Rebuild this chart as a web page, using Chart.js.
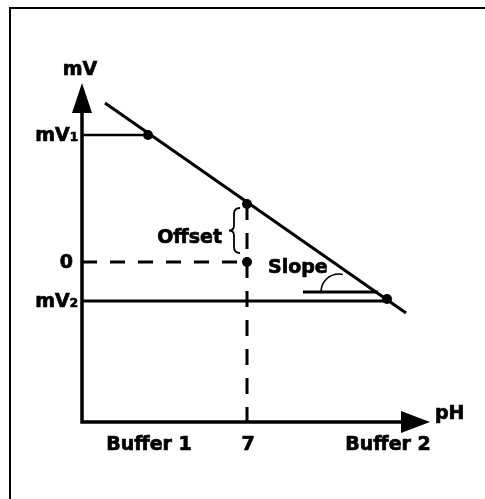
<!DOCTYPE html>
<html><head><meta charset="utf-8">
<style>html,body{margin:0;padding:0;background:#fff}#wrap{position:relative;width:485px;height:499px}</style>
<script src="https://cdn.jsdelivr.net/npm/chart.js@4/dist/chart.umd.min.js"></script>
</head><body><div id="wrap"><canvas id="c"></canvas></div>
<script>
// ---- data (abstract plot units) ----
const xTickLabels = ['Buffer 1', '7', 'Buffer 2'];
const xTickValues = [66, 165, 305];
const yTickMain = ['mV', '0', 'mV'];
const yTickSub = ['1', '', '2'];
const yTickValues = [127, 0, -39];
const calibrationLine = [{x: 23, y: 159}, {x: 324, y: -51}];
const bufferPoints = [{x: 66, y: 127}, {x: 305, y: -37}];
const offsetPoints = [{x: 165, y: 58}, {x: 165, y: 0}];
const mV1Guide = [{x: 0, y: 127}, {x: 66, y: 127}];
const mV2Guide = [{x: 0, y: -39}, {x: 305, y: -39}];
const zeroGuide = [{x: 0, y: 0}, {x: 165, y: 0}];
const phSevenGuide = [{x: 165, y: 58}, {x: 165, y: -160}];
const slopeReference = [{x: 221, y: -30}, {x: 296, y: -30}];
const xRange = [0, 348];
const yRange = [-160, 179];

const FONT = 'bold 19px "DejaVu Sans"';
const SUBFONT = 'bold 12px "DejaVu Sans"';

function lineDs(data, width, dash) {
  return {data, showLine: true, borderColor: '#000', backgroundColor: '#000',
    borderWidth: width, borderDash: dash || [], pointRadius: 0, pointHoverRadius: 0, tension: 0};
}

function heavyText(ctx, t, x, y) {
  ctx.fillText(t, x, y);
  ctx.lineWidth = 0.7;
  ctx.strokeText(t, x, y);
}

const overlay = {
  id: 'overlay',
  afterDatasetsDraw(chart) {
    const ctx = chart.ctx;
    const xs = chart.scales.x, ys = chart.scales.y;
    const X = v => xs.getPixelForValue(v), Y = v => ys.getPixelForValue(v);
    const x0 = X(xRange[0]), y0 = Y(yRange[0]);
    const xEnd = X(xRange[1]), yEnd = Y(yRange[1]);
    ctx.save();
    ctx.fillStyle = '#000'; ctx.strokeStyle = '#000';
    // frame
    ctx.lineWidth = 2;
    ctx.beginPath(); ctx.moveTo(10, 499); ctx.lineTo(10, 8); ctx.lineTo(485, 8); ctx.stroke();
    // axes
    ctx.lineWidth = 3.5;
    ctx.beginPath(); ctx.moveTo(x0, yEnd + 20); ctx.lineTo(x0, y0); ctx.lineTo(xEnd - 20, y0); ctx.stroke();
    // arrowheads
    ctx.beginPath(); ctx.moveTo(x0, yEnd); ctx.lineTo(x0 - 10, yEnd + 30); ctx.lineTo(x0 + 10, yEnd + 30); ctx.closePath(); ctx.fill();
    ctx.beginPath(); ctx.moveTo(xEnd, y0); ctx.lineTo(xEnd - 29, y0 - 11); ctx.lineTo(xEnd - 29, y0 + 11); ctx.closePath(); ctx.fill();
    // axis titles
    ctx.font = FONT; ctx.textBaseline = 'alphabetic';
    ctx.textAlign = 'center'; heavyText(ctx, 'mV', x0 - 2, yEnd - 8);
    ctx.textAlign = 'left'; heavyText(ctx, 'pH', xEnd + 5, y0 - 3);
    // x tick labels
    ctx.textAlign = 'center';
    xTickLabels.forEach((t, i) => heavyText(ctx, t, X(xTickValues[i]) + 1, y0 + 28));
    // y tick labels
    yTickValues.forEach((v, i) => {
      const right = x0 - 4;
      ctx.font = SUBFONT;
      const sw = yTickSub[i] ? ctx.measureText(yTickSub[i]).width : 5;
      if (yTickSub[i]) { ctx.textAlign = 'left'; heavyText(ctx, yTickSub[i], right - sw, Y(v) + 6); }
      ctx.font = FONT; ctx.textAlign = 'right';
      heavyText(ctx, yTickMain[i], right - sw, Y(v) + 6);
    });
    // Offset annotation
    const ox = X(offsetPoints[0].x), oyTop = Y(offsetPoints[0].y);
    ctx.textAlign = 'right';
    heavyText(ctx, 'Offset', ox - 25, oyTop + 39);
    ctx.lineWidth = 1.8;
    const bx = ox - 13, bt = oyTop + 4, bb = oyTop + 49, bm = (bt + bb) / 2;
    ctx.beginPath();
    ctx.moveTo(bx + 6, bt);
    ctx.quadraticCurveTo(bx, bt, bx, bt + 6);
    ctx.lineTo(bx, bm - 5);
    ctx.quadraticCurveTo(bx, bm, bx - 5, bm);
    ctx.quadraticCurveTo(bx, bm, bx, bm + 5);
    ctx.lineTo(bx, bb - 6);
    ctx.quadraticCurveTo(bx, bb, bx + 6, bb);
    ctx.stroke();
    // Slope annotation
    const sx = X(slopeReference[0].x), sy = Y(slopeReference[0].y);
    ctx.textAlign = 'left';
    heavyText(ctx, 'Slope', sx - 35, sy - 19);
    ctx.lineWidth = 1.6;
    ctx.beginPath(); ctx.arc(sx + 36, sy, 18, Math.PI, 4.93, false); ctx.stroke();
    ctx.restore();
  }
};

new Chart(document.getElementById('c'), {
  type: 'scatter',
  data: {
    datasets: [
      lineDs(calibrationLine, 3),
      lineDs(mV1Guide, 2.5),
      lineDs(mV2Guide, 3),
      lineDs(zeroGuide, 3, [15, 13]),
      lineDs(phSevenGuide, 3, [16, 13]),
      lineDs(slopeReference, 3),
      {data: bufferPoints.concat(offsetPoints), showLine: false, pointRadius: 5,
       pointBackgroundColor: '#000', pointBorderColor: '#000', pointBorderWidth: 0, pointHoverRadius: 5}
    ]
  },
  options: {
    responsive: true, maintainAspectRatio: false, animation: false,
    events: [],
    layout: {autoPadding: false, padding: {left: 82, top: 83, right: 55, bottom: 77}},
    plugins: {legend: {display: false}, tooltip: {enabled: false}},
    scales: {
      x: {type: 'linear', min: xRange[0], max: xRange[1], display: false},
      y: {type: 'linear', min: yRange[0], max: yRange[1], display: false}
    }
  },
  plugins: [overlay]
});
</script></body></html>
